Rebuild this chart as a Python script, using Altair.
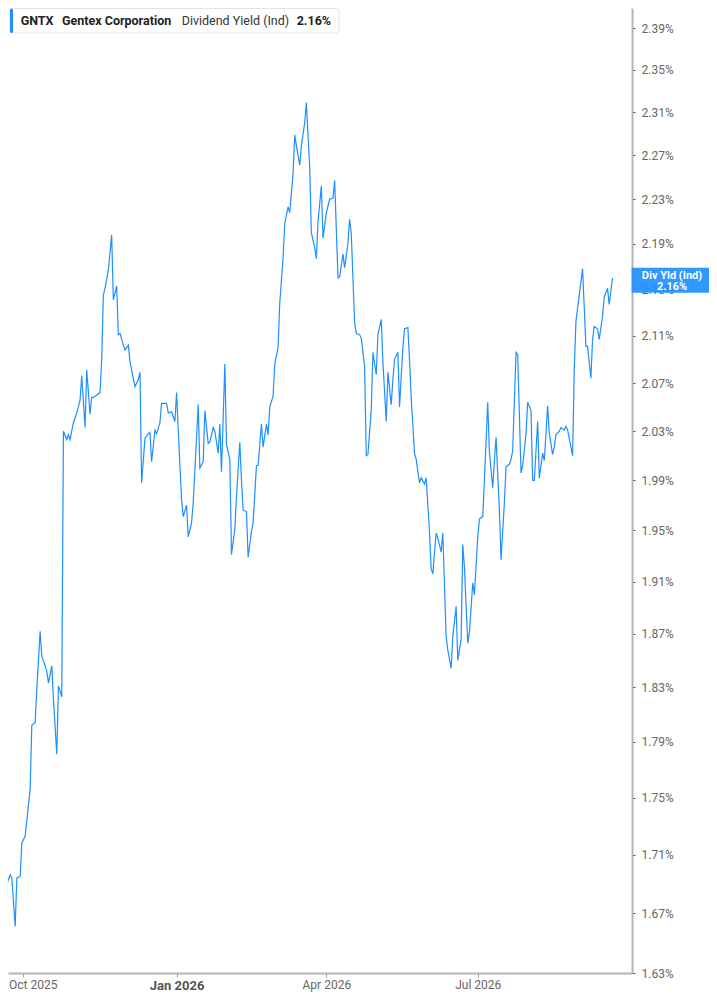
import altair as alt
import pandas as pd

# Days since 2025-10-01 and dividend yield (%)
days = [-14, -11, -10, -8, -7, -5, -4, -2, -1, 1, 4, 5, 7, 8, 10, 11, 13, 14, 15, 17,
        18, 20, 21, 23, 24, 26, 27, 28, 30, 32, 34, 35, 37, 38, 40, 41, 42, 46, 47, 48,
        49, 51, 53, 54, 56, 57, 58, 60, 61, 63, 64, 67, 69, 70, 71, 73, 75, 76, 77, 79,
        80, 82, 83, 86, 87, 89, 91, 92, 93, 95, 96, 98, 99, 101, 102, 103, 105, 106, 108, 109,
        111, 112, 114, 115, 117, 118, 119, 121, 122, 124, 125, 127, 128, 130, 131, 132, 134, 135, 137, 138,
        140, 141, 143, 144, 146, 147, 148, 150, 151, 153, 154, 156, 157, 159, 160, 162, 163, 164, 166, 167,
        169, 170, 172, 173, 175, 176, 177, 179, 180, 182, 184, 186, 187, 189, 190, 192, 193, 195, 196, 197,
        199, 200, 202, 203, 205, 206, 207, 209, 210, 212, 213, 215, 216, 218, 219, 221, 222, 223, 225, 226,
        228, 229, 231, 232, 233, 235, 236, 238, 239, 241, 242, 244, 245, 246, 248, 249, 251, 252, 254, 255,
        257, 258, 260, 261, 263, 264, 265, 267, 268, 270, 271, 273, 274, 276, 277, 279, 280, 282, 283, 284,
        286, 287, 289, 290, 292, 293, 294, 296, 297, 299, 300, 302, 303, 305, 306, 307, 309, 310, 312, 313,
        315, 316, 318, 319, 320, 322, 323, 325, 326, 327, 330, 331, 332, 334, 336, 338, 339, 341, 342, 343,
        345, 346, 348, 349, 351, 352, 354]

yields = [1.652, 1.690, 1.690, 1.696, 1.694, 1.661, 1.694, 1.695, 1.718, 1.723, 1.756, 1.802, 1.804, 1.829, 1.872, 1.853, 1.846, 1.842, 1.833, 1.846,
          1.821, 1.781, 1.831, 1.823, 2.030, 2.023, 2.027, 2.023, 2.037, 2.045, 2.056, 2.076, 2.033, 2.081, 2.044, 2.058, 2.058, 2.062, 2.090, 2.145,
          2.151, 2.167, 2.198, 2.141, 2.153, 2.111, 2.112, 2.102, 2.098, 2.102, 2.088, 2.067, 2.073, 2.079, 1.988, 2.024, 2.028, 2.029, 2.005, 2.031,
          2.028, 2.037, 2.053, 2.053, 2.045, 2.046, 2.038, 2.062, 2.031, 1.974, 1.961, 1.970, 1.945, 1.956, 1.972, 1.998, 2.052, 2.000, 2.005, 2.047,
          2.020, 2.021, 2.033, 2.030, 2.012, 2.036, 1.997, 2.086, 2.019, 2.007, 1.931, 1.951, 1.977, 2.021, 1.990, 1.966, 1.965, 1.929, 1.949, 1.956,
          2.002, 2.002, 2.036, 2.017, 2.036, 2.027, 2.050, 2.059, 2.086, 2.100, 2.138, 2.178, 2.208, 2.223, 2.218, 2.253, 2.289, 2.279, 2.261, 2.279,
          2.300, 2.319, 2.259, 2.200, 2.187, 2.177, 2.210, 2.242, 2.195, 2.218, 2.230, 2.231, 2.247, 2.160, 2.161, 2.181, 2.169, 2.191, 2.212, 2.199,
          2.121, 2.112, 2.111, 2.108, 2.084, 2.010, 2.011, 2.048, 2.096, 2.077, 2.111, 2.124, 2.088, 2.038, 2.079, 2.052, 2.073, 2.090, 2.096, 2.050,
          2.100, 2.116, 2.117, 2.090, 2.058, 2.012, 2.007, 1.988, 1.992, 1.987, 1.992, 1.949, 1.920, 1.916, 1.948, 1.944, 1.933, 1.948, 1.868, 1.858,
          1.844, 1.868, 1.891, 1.850, 1.866, 1.939, 1.921, 1.863, 1.871, 1.909, 1.900, 1.945, 1.959, 1.961, 1.990, 2.054, 2.013, 1.984, 2.006, 2.025,
          1.966, 1.927, 1.972, 2.001, 2.003, 2.007, 2.014, 2.096, 2.094, 1.996, 2.002, 2.028, 2.054, 2.047, 1.990, 1.990, 2.038, 1.992, 2.012, 2.006,
          2.051, 2.028, 2.011, 2.017, 2.027, 2.030, 2.033, 2.031, 2.034, 2.031, 2.010, 2.081, 2.122, 2.145, 2.168, 2.101, 2.101, 2.074, 2.107, 2.118,
          2.116, 2.107, 2.127, 2.143, 2.151, 2.137, 2.160]

y_ticks = [1.63, 1.67, 1.71, 1.75, 1.79, 1.83, 1.87, 1.91, 1.95, 1.99, 2.03, 2.07,
           2.11, 2.15, 2.19, 2.23, 2.27, 2.31, 2.35, 2.39]

start = pd.Timestamp("2025-10-01")
dates = [(start + pd.Timedelta(days=d)).strftime("%Y-%m-%d") for d in days]
df = pd.DataFrame({"date": dates, "yield": yields})

BLUE = "#1E8FFF"
FONT = "Roboto"

x_ticks = [
    alt.DateTime(year=2025, month=10, date=1, utc=True),
    alt.DateTime(year=2026, month=1, date=1, utc=True),
    alt.DateTime(year=2026, month=4, date=1, utc=True),
    alt.DateTime(year=2026, month=7, date=1, utc=True),
]

x_enc = alt.X(
    "date:T",
    title=None,
    scale=alt.Scale(
        type="utc",
        nice=False,
        domain=[
            alt.DateTime(year=2025, month=9, date=21, hours=16, minutes=34, utc=True),
            alt.DateTime(year=2026, month=10, date=1, hours=16, minutes=48, utc=True),
        ],
    ),
    axis=alt.Axis(
        values=x_ticks,
        labelExpr="utcFormat(datum.value, '%b %Y')",
        labelFontWeight={"expr": "utcmonth(datum.value) == 0 ? 'bold' : 'normal'"},
        labelFontSize={"expr": "utcmonth(datum.value) == 0 ? 13 : 12"},
        labelColor={"expr": "utcmonth(datum.value) == 0 ? '#555555' : '#666666'"},
        labelAlign={"expr": "utcmonth(datum.value) == 9 ? 'left' : 'center'"},
        labelOffset={"expr": "utcmonth(datum.value) == 9 ? -15 : 0"},
        labelFont=FONT,
        labelFlush=False,
        labelPadding=2,
        tickColor="#9a9a9a",
        tickSize=4,
        domainColor="#b3b3b3",
        domainWidth=2,
        grid=False,
    ),
)

y_enc = alt.Y(
    "yield:Q",
    title=None,
    scale=alt.Scale(type="log", domain=[1.63, 2.4096], nice=False, zero=False),
    axis=alt.Axis(
        orient="right",
        values=y_ticks,
        labelExpr="format(datum.value, '.2f') + '%'",
        labelColor="#666666",
        labelFont=FONT,
        labelFontSize=12,
        labelPadding=6,
        tickColor="#555555",
        tickSize=3,
        domainColor="#b3b3b3",
        domainWidth=2,
        grid=False,
    ),
)

line = alt.Chart(df).mark_line(color=BLUE, strokeWidth=1.2, clip=True).encode(x=x_enc, y=y_enc)

one = pd.DataFrame({"k": [0]})

legend_box = alt.Chart(one).mark_rect(
    fill="white", stroke="#e4e4e4", strokeWidth=1, cornerRadius=3
).encode(x=alt.value(2), x2=alt.value(331), y=alt.value(0.5), y2=alt.value(25))

legend_bar = alt.Chart(one).mark_rect(fill=BLUE, cornerRadius=1.5).encode(
    x=alt.value(2), x2=alt.value(5), y=alt.value(0.5), y2=alt.value(25)
)

def legend_text(txt, xpos, weight, color):
    return alt.Chart(one).mark_text(
        align="left", baseline="middle", font=FONT, fontSize=12.5,
        fontWeight=weight, color=color, text=txt,
    ).encode(x=alt.value(xpos), y=alt.value(13))

t1 = legend_text("GNTX", 12.7, "bold", "#222222")
t2 = legend_text("Gentex Corporation", 54, "bold", "#222222")
t3 = legend_text("Dividend Yield (Ind)", 173.7, "normal", "#333333")
t4 = legend_text("2.16%", 288.7, "bold", "#222222")

tag_box = alt.Chart(one).mark_rect(fill=BLUE, opacity=0.92, clip=False).encode(
    x=alt.value(623.7), x2=alt.value(701),
    y=alt.datum(2.169), y2=alt.datum(2.147),
)
tag_t1 = alt.Chart(one).mark_text(
    align="center", baseline="middle", font=FONT, fontSize=11, fontWeight="bold",
    color="white", text="Div Yld (Ind)", dy=-5.5, clip=False,
).encode(x=alt.value(664), y=alt.datum(2.157))
tag_t2 = alt.Chart(one).mark_text(
    align="center", baseline="middle", font=FONT, fontSize=11, fontWeight="bold",
    color="white", text="2.16%", dy=5.5, clip=False,
).encode(x=alt.value(664), y=alt.datum(2.157))

chart = alt.layer(
    line, legend_box, legend_bar, t1, t2, t3, t4, tag_box, tag_t1, tag_t2
).properties(
    width=624, height=965, background="white",
    autosize=alt.AutoSizeParams(type="none"),
    padding={"left": 0, "top": 0, "right": 77, "bottom": 20},
).configure_view(stroke=None)

chart.save("out.html", embed_options={"renderer": "svg", "actions": False})
